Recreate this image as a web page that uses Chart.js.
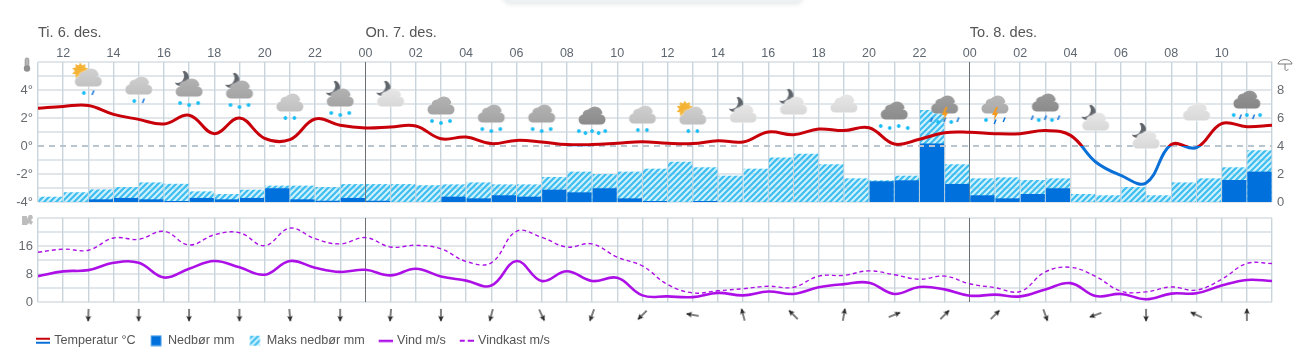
<!DOCTYPE html>
<html><head><meta charset="utf-8">
<style>
html,body{margin:0;padding:0;background:#fff;width:1308px;height:357px;overflow:hidden}
canvas{position:absolute;left:0}
svg{position:absolute}
#panel{position:absolute;left:503px;top:-20px;width:300px;height:23px;background:#eef1f2;border-radius:0 0 8px 8px;box-shadow:0 1px 5px rgba(120,130,135,.22)}
</style>
<script src="https://cdn.jsdelivr.net/npm/chart.js@4/dist/chart.umd.min.js"></script>
</head><body>
<div id="panel"></div>
<svg style="left:22px;top:57px" width="10" height="16" viewBox="0 0 10 16"><rect x="3.2" y="1" width="3.6" height="10" rx="1.8" fill="#b5b5b5" stroke="#999"/><circle cx="5" cy="11.5" r="3.2" fill="#8f8f8f"/></svg>
<svg style="left:1276px;top:56px" width="20" height="16" viewBox="0 0 20 16"><path d="M2 8 C3 2 15 2 16 8 Z M9 8 V13 C9 15 12 15 12 13" fill="none" stroke="#7d7d7d" stroke-width="1"/></svg>
<svg style="left:21px;top:214px" width="13" height="13" viewBox="0 0 13 13"><path d="M1 2 H6 V5 L8 1 H11 L12 4 L10 6 L12 8 L10 11 L8 9 L6 11 H1 Z" fill="#bdbdbd"/></svg>
<canvas id="cTop" width="1308" height="212" style="top:0"></canvas>
<canvas id="cWind" width="1308" height="100" style="top:210px"></canvas>
<canvas id="cDir" width="1308" height="86" style="top:271px"></canvas>
<script>
const hourLabels=['11','12','13','14','15','16','17','18','19','20','21','22','23','00','01','02','03','04','05','06','07','08','09','10','11','12','13','14','15','16','17','18','19','20','21','22','23','00','01','02','03','04','05','06','07','08','09','10','11','12'];
const dayLabels=['Ti. 6. des.','On. 7. des.','To. 8. des.'];
const dayStarts=[0,13,37];
const temperature=[2.7,2.83,2.9,2.26,1.9,1.57,2.2,0.88,2.0,0.55,0.45,1.93,1.48,1.29,1.36,1.43,0.52,0.64,0.17,0.4,0.29,0.1,0.1,0.2,0.31,0.19,0.17,0.38,0.29,1.0,0.81,1.21,1.1,1.3,0.14,0.48,0.95,0.98,0.88,0.88,1.1,0.76,-1.14,-2.1,-2.64,0.1,-0.12,1.6,1.38,1.48];
const maxPrecip=[0.38,0.7,0.9,1.07,1.4,1.3,0.76,0.57,0.88,1.17,1.17,1.07,1.28,1.28,1.28,1.2,1.26,1.4,1.26,1.26,1.79,2.17,2.0,2.17,2.38,2.88,2.48,1.88,2.38,3.17,3.45,2.69,1.69,1.55,1.88,6.57,2.69,1.69,1.76,1.57,1.69,0.57,0.48,1.07,0.48,1.4,1.69,2.48,3.69];
const precip=[0,0,0.19,0.29,0.19,0.07,0.29,0.19,0.29,0.98,0.19,0.09,0.29,0.09,0,0,0.38,0.26,0.48,0.38,0.88,0.69,0.98,0.26,0.07,0,0.07,0,0,0,0,0,0,1.48,1.55,4.17,1.29,0.48,0.26,0.57,0.98,0,0,0,0,0,0,1.57,2.17];
const wind=[7.4,8.76,9.1,11.2,11.2,7.0,9.5,11.7,9.9,7.8,11.7,9.8,8.6,9.2,7.6,9.5,7.3,6.1,4.7,11.7,6.0,8.8,6.0,6.9,1.9,1.6,1.4,2.6,1.9,3.0,2.3,4.2,5.1,5.5,2.3,4.3,3.6,1.8,2.1,1.6,3.6,5.4,1.7,2.3,0.8,2.4,2.5,4.7,6.3,6.0];
const gust=[14.2,15.1,14.8,18.3,17.9,20.2,16.3,19.2,19.8,16.1,21.1,18.1,16.6,18.4,15.7,16.2,15.2,11.6,11.2,20.2,18.5,15.7,16.6,12.8,10.3,5,2.6,3.2,3.8,4.5,4.2,7.4,7.6,8.9,7.8,6.5,7.4,5.2,4.1,3,8.6,9.9,7.3,3.1,2.9,4.3,3.4,6.5,11,11];
const symbolHours=[2,4,6,8,10,12,14,16,18,20,22,24,26,28,30,32,34,36,38,40,42,44,46,48];
const windDirs=[182,180,180,180,175,180,185,180,195,155,200,225,280,345,315,10,68,45,45,160,250,180,295,0];
const iconLevels=[4.79,4.21,4.07,3.93,3.0,3.36,3.36,2.79,2.21,2.21,2.07,2.14,2.07,2.21,2.79,2.93,2.43,2.86,2.86,3.0,1.64,0.36,2.36,3.21];
const iconSky=['sun','','moon','moon','','moon','moon','','','','','','sun','moon','moon','','','','','','moon','moon','',''];
const iconShade=[200,198,170,170,198,170,222,170,170,170,145,198,198,222,222,222,145,150,175,145,222,222,222,140];
const iconFall=['sr','sr','sss','sss','ss','sss','','sss','sss','sss','sssss','ss','ss','','','','ssss','rsrLsr','sLrr','rsrsr','','','','srsrs'];
const legendLabels=['Temperatur °C','Nedbør mm','Maks nedbør mm','Vind m/s','Vindkast m/s'];

const FONT='"Liberation Sans",Arial,sans-serif';
const RED='#c70009',BLUE='#0a70d8',RAIN='#0070dc',PURPLE='#ad10e6';
const GRIDH='#e0e6ea',GRIDV='#c9d4dd',MID='#6a6f74',TXT='#666b70';
function mk(w,h){const c=document.createElement('canvas');c.width=w;c.height=h;return c;}
function noPad(s){s.paddingTop=0;s.paddingBottom=0;s.paddingLeft=0;s.paddingRight=0;}

function hatch(ctx){
  const p=mk(6,6),g=p.getContext('2d');
  g.fillStyle='rgba(150,226,250,.45)';g.fillRect(0,0,6,6);
  g.strokeStyle='#3dbdf0';g.lineWidth=2.1;
  [[-1,1,1,-1],[0,6,6,0],[5,7,7,5]].forEach(s=>{g.beginPath();g.moveTo(s[0],s[1]);g.lineTo(s[2],s[3]);g.stroke();});
  return ctx.createPattern(p,'repeat');
}
function icon(sky,shade,fall){
  const c=mk(48,56),g=c.getContext('2d'),cx=24,cy=28;
  if(sky==='sun'){
    g.fillStyle='#f5b335';
    g.save();g.translate(cx-8,cy-8);
    for(let i=0;i<10;i++){g.rotate(Math.PI/5);g.beginPath();g.moveTo(-2,-5);g.lineTo(0,-8.5);g.lineTo(2,-5);g.fill();}
    g.beginPath();g.arc(0,0,5.5,0,7);g.fill();g.restore();
  }
  if(sky==='moon'){
    g.save();g.translate(cx-8,cy-11);g.fillStyle='#5f656b';
    g.beginPath();g.arc(0,0,8,-1.1,2.3);g.arc(-4,-2,7,1.9,-0.7,true);g.closePath();g.fill();g.restore();
  }
  const grad=g.createLinearGradient(0,cy-10,0,cy+8);
  const s=shade;grad.addColorStop(0,`rgb(${s+8},${s+8},${s+8})`);grad.addColorStop(1,`rgb(${s-6},${s-6},${s-6})`);
  g.fillStyle=grad;
  g.shadowColor='rgba(255,255,255,.9)';g.shadowBlur=2;
  g.beginPath();
  g.arc(cx-8.5,cy+2.6,5,Math.PI/2,Math.PI*1.5);
  g.arc(cx-4,cy-2,5.5,Math.PI,Math.PI*1.75);
  g.arc(cx+2.5,cy-2.5,8,Math.PI*1.15,Math.PI*1.95);
  g.arc(cx+8.5,cy+2.6,5,-Math.PI/2,Math.PI/2);
  g.closePath();g.fill();
  g.shadowBlur=0;
  const items=fall.replace('L','').split('');
  const n=items.length;
  items.forEach((t,i)=>{
    const gapx=n>=5?6.6:9;
    const x=cx+(i-(n-1)/2)*gapx;
    const y=cy+14+(n>=3&&i%2===1?2:0);
    if(t==='s'){
      g.fillStyle='#18bdf5';g.fillRect(x-1.5,y-1.5,3,3);g.fillRect(x-.5,y-2,1,4);g.fillRect(x-2,y-.5,4,1);
    }else{
      g.strokeStyle='#1073dc';g.lineWidth=1.5;g.beginPath();g.moveTo(x+1,y-2.5);g.lineTo(x-.8,y+2);g.stroke();
    }
  });
  if(fall.includes('L')){
    g.fillStyle='#f59a1c';g.beginPath();
    g.moveTo(cx+1,cy+1);g.lineTo(cx-3,cy+9);g.lineTo(cx,cy+9);g.lineTo(cx-1.5,cy+15);g.lineTo(cx+3.5,cy+6.5);g.lineTo(cx+.8,cy+6.5);g.lineTo(cx+3,cy+1);g.closePath();g.fill();
  }
  return c;
}
function arrow(){
  const c=mk(22,22),g=c.getContext('2d');
  g.strokeStyle='#2c2c2c';g.fillStyle='#2c2c2c';g.lineWidth=1.2;
  g.beginPath();g.moveTo(11,5);g.lineTo(11,17);g.stroke();
  g.beginPath();g.moveTo(11,4);g.lineTo(13.8,10);g.lineTo(11,8.8);g.lineTo(8.2,10);g.closePath();g.fill();
  return c;
}
function legendSym(kind){
  const c=mk(15,12),g=c.getContext('2d');
  if(kind===0){g.fillStyle=RED;g.fillRect(1,3,14,2);g.fillStyle=BLUE;g.fillRect(1,7,14,2);}
  if(kind===1){g.fillStyle=RAIN;g.fillRect(2.5,1,10,10);g.strokeStyle='#5ba8ee';g.lineWidth=1;g.strokeRect(2.5,1,10,10);}
  if(kind===2){g.fillStyle=hatch(g);g.fillRect(2.5,1,10,10);}
  if(kind===3){g.fillStyle=PURPLE;g.fillRect(1,5,14,2.4);}
  if(kind===4){g.fillStyle=PURPLE;g.fillRect(1,5,5,2);g.fillRect(9,5,6,2);}
  return c;
}
function xScale(extra){
  return Object.assign({type:'linear',min:0,max:49,offset:false,
    afterBuildTicks:s=>{s.ticks=hourLabels.map((_,i)=>({value:i}));},
    grid:{offset:false,drawTicks:false,lineWidth:c=>(hourLabels[c.tick&&c.tick.value]==='00'?1:1.4),
      color:c=>(c.tick&&hourLabels[c.tick.value]==='00'?MID:GRIDV)},
    border:{display:false}},extra||{});
}
function pts(a,off){return a.map((v,i)=>({x:i+(off||0),y:v}));}
function symPts(a){return symbolHours.map((h,i)=>({x:h,y:a[i]}));}
const yGrid={drawTicks:false,lineWidth:2,color:c=>(c.tick&&c.tick.value===0&&c.scale.max===6?'rgba(0,0,0,0)':GRIDH)};
const common={responsive:false,animation:false,events:[],plugins:{legend:{display:false},tooltip:{enabled:false}}};

const topCtx=document.getElementById('cTop').getContext('2d');
function tempColor(c){
  const a=c.chart.chartArea;if(!a)return RED;
  const y0=c.chart.scales.y.getPixelForValue(0),t=(y0-a.top)/(a.bottom-a.top);
  const g=c.chart.ctx.createLinearGradient(0,a.top,0,a.bottom);
  g.addColorStop(0,RED);g.addColorStop(t,RED);g.addColorStop(t,BLUE);g.addColorStop(1,BLUE);return g;
}
new Chart(topCtx,{data:{datasets:[
  {type:'line',label:'symbols',data:symPts(iconLevels),showLine:false,order:0,clip:false,xAxisID:'x',yAxisID:'y',
    pointStyle:iconSky.map((s,i)=>icon(s,iconShade[i],iconFall[i])),pointRadius:20,borderWidth:0},
  {type:'line',label:legendLabels[0],data:pts(temperature),borderColor:tempColor,borderWidth:3,tension:.4,pointRadius:0,order:1,xAxisID:'x',yAxisID:'y'},
  {type:'line',label:'zero',data:[{x:0,y:0},{x:49,y:0}],borderColor:'#b9c6d0',borderWidth:2,borderDash:[6,5],pointRadius:0,order:2,xAxisID:'x',yAxisID:'y'},
  {type:'bar',label:legendLabels[1],data:pts(precip,.5),backgroundColor:RAIN,grouped:false,barPercentage:1,categoryPercentage:.96,order:3,xAxisID:'x',yAxisID:'yR'},
  {type:'bar',label:legendLabels[2],data:pts(maxPrecip,.5),backgroundColor:hatch(topCtx),grouped:false,barPercentage:1,categoryPercentage:.96,order:4,xAxisID:'x',yAxisID:'yR'}
]},options:Object.assign({},common,{
  layout:{autoPadding:false,padding:{bottom:10}},
  scales:{
    y:{min:-4,max:6,position:'left',grid:yGrid,border:{display:false},afterFit:s=>{s.width=38;noPad(s);},
      ticks:{stepSize:1,autoSkip:false,padding:5,color:TXT,font:{family:FONT,size:13},callback:v=>(v%2===0&&v!==6?v+'°':'')}},
    yR:{min:0,max:10,position:'right',grid:{display:false,drawTicks:false},border:{display:false},afterFit:s=>{s.width=36;noPad(s);},
      ticks:{stepSize:2,autoSkip:false,padding:5,color:TXT,font:{family:FONT,size:13},callback:v=>(v<10?String(v):'')}},
    x:xScale({position:'top',afterFit:s=>{s.height=20;noPad(s);},
      ticks:{autoSkip:false,maxRotation:0,padding:1,color:'#5f6770',font:{family:FONT,size:12.5},
        callback:v=>(Number.isInteger(v)&&v%2===1&&v<49?hourLabels[v]:'')}}),
    x2:{type:'linear',position:'top',min:0,max:49,offset:false,grid:{display:false,drawTicks:false},border:{display:false},
      afterBuildTicks:s=>{s.ticks=dayStarts.map(v=>({value:v}));},
      afterFit:s=>{s.height=42;noPad(s);},
      ticks:{autoSkip:false,maxRotation:0,align:'start',padding:0,color:'#555',font:{family:FONT,size:14.6},
        callback:v=>dayLabels[dayStarts.indexOf(v)]}}
  }})});

new Chart(document.getElementById('cWind'),{data:{datasets:[
  {type:'line',label:legendLabels[3],data:pts(wind),borderColor:PURPLE,borderWidth:2.6,tension:.4,pointRadius:0,order:0},
  {type:'line',label:legendLabels[4],data:pts(gust),borderColor:PURPLE,borderWidth:1.4,borderDash:[4,3],tension:.4,pointRadius:0,order:1}
]},options:Object.assign({},common,{
  layout:{autoPadding:false,padding:{top:8,bottom:8,right:36}},
  scales:{
    y:{min:0,max:24,position:'left',grid:yGrid,border:{display:false},afterFit:s=>{s.width=38;noPad(s);},
      ticks:{stepSize:4,autoSkip:false,padding:5,color:TXT,font:{family:FONT,size:13},callback:v=>(v%8===0&&v<24?String(v):'')}},
    x:xScale({position:'bottom',ticks:{display:false},afterFit:s=>{s.height=0;noPad(s);}})
  }})});

const arrowImg=arrow();
const arrowLevel=0.093;
new Chart(document.getElementById('cDir'),{data:{datasets:[
  {type:'line',label:'wind direction',data:symbolHours.map(h=>({x:h,y:arrowLevel})),showLine:false,clip:false,
   pointStyle:arrowImg,pointRotation:windDirs,pointRadius:10,borderWidth:0}
]},options:Object.assign({},common,{
  layout:{autoPadding:false,padding:{left:22,right:22}},
  plugins:{tooltip:{enabled:false},legend:{display:true,position:'bottom',align:'start',
    labels:{usePointStyle:true,pointStyleWidth:11,padding:15,color:'#555',font:{family:FONT,size:12.6},
      generateLabels:()=>legendLabels.map((t,i)=>({text:t,fontColor:'#555',pointStyle:legendSym(i),hidden:false,lineWidth:0,strokeStyle:'transparent',fillStyle:'transparent'}))}}},
  scales:{
    x:{type:'linear',min:0,max:49,display:false,offset:false},
    y:{min:0,max:1,position:'left',ticks:{display:false},grid:{display:false,drawTicks:false},border:{display:false},afterFit:s=>{s.width=16;noPad(s);}},
    yRight:{min:0,max:1,position:'right',ticks:{display:false},grid:{display:false,drawTicks:false},border:{display:false},afterFit:s=>{s.width=14;noPad(s);}}
  }})});
</script>
</body></html>
